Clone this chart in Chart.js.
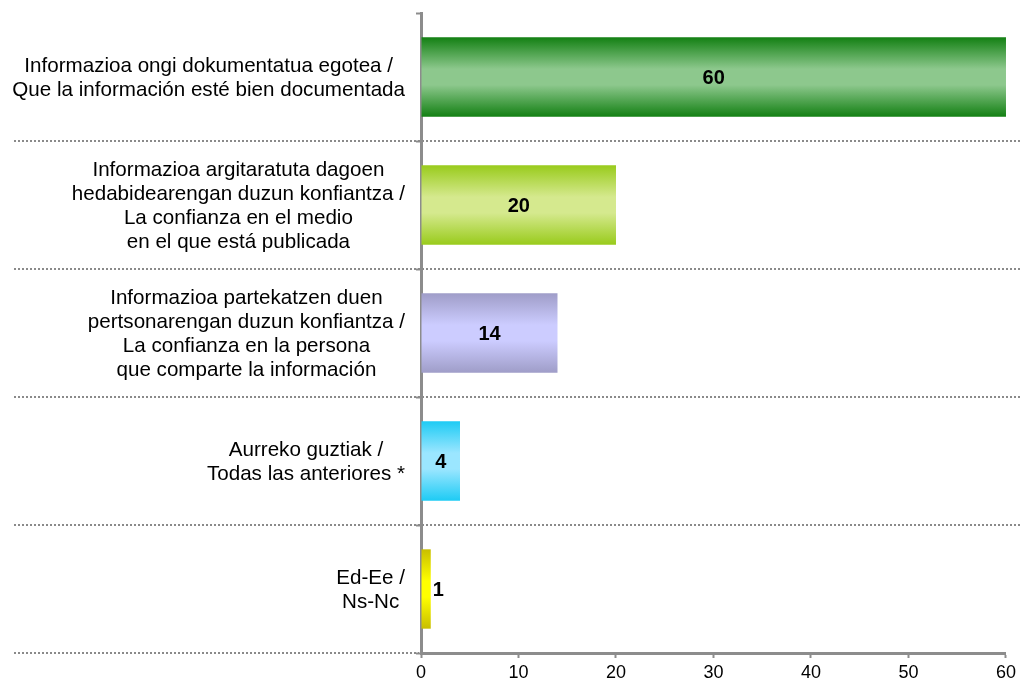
<!DOCTYPE html>
<html>
<head>
<meta charset="utf-8">
<script src="https://cdn.jsdelivr.net/npm/chart.js@4"></script>
<style>
  html, body { margin: 0; padding: 0; background: #fff; }
  #wrap { width: 1020px; height: 682px; }
</style>
</head>
<body>
<div id="wrap"><canvas id="chart"></canvas></div>
<script>
const categories = [
  ['Informazioa ongi dokumentatua egotea /', 'Que la información esté bien documentada'],
  ['Informazioa argitaratuta dagoen', 'hedabidearengan duzun konfiantza /', 'La confianza en el medio', 'en el que está publicada'],
  ['Informazioa partekatzen duen', 'pertsonarengan duzun konfiantza /', 'La confianza en la persona', 'que comparte la información'],
  ['Aurreko guztiak /', 'Todas las anteriores *'],
  ['Ed-Ee /', 'Ns-Nc']
];
const values = [60, 20, 14, 4, 1];
const xMin = 0, xMax = 60, xStep = 10;

// bar shading: dark at the edges, light in the middle
const darkColors  = ['#138013', '#99cb1c', '#9f9dc8', '#1ecbf4', '#c8be00'];
const lightColors = ['#8dc88d', '#d5e98e', '#ccccff', '#9be6ff', '#ffff00'];

const FONT = "'Liberation Sans', Arial, sans-serif";
const GRAY = '#8c8c8c';
const BAR_FRACTION = 0.62;

function barFill(context){
  const chart = context.chart;
  const i = context.dataIndex;
  const y = chart.scales && chart.scales.y;
  if (i === undefined || !chart.chartArea || !y) return lightColors[i || 0];
  const band = y.height / categories.length;
  const half = band * BAR_FRACTION / 2;
  const cy = y.getPixelForValue(i);
  const g = chart.ctx.createLinearGradient(0, cy - half, 0, cy + half);
  g.addColorStop(0, darkColors[i]);
  g.addColorStop(0.4, lightColors[i]);
  g.addColorStop(0.6, lightColors[i]);
  g.addColorStop(1, darkColors[i]);
  return g;
}

const separators = {
  id: 'separators',
  beforeDatasetsDraw(chart){
    const y = chart.scales.y, ctx = chart.ctx;
    const band = y.height / categories.length;
    ctx.save();
    ctx.strokeStyle = '#8a8a8a';
    ctx.lineWidth = 2;
    ctx.setLineDash([2, 2]);
    categories.forEach((c, i) => {
      const py = Math.round(y.getPixelForValue(i) + band / 2);
      const x2 = i === categories.length - 1 ? chart.chartArea.left - 2 : chart.width;
      ctx.beginPath();
      ctx.moveTo(14, py);
      ctx.lineTo(x2, py);
      ctx.stroke();
    });
    ctx.restore();
  }
};

const textLabels = {
  id: 'textLabels',
  afterDraw(chart){
    const ctx = chart.ctx, y = chart.scales.y;
    const right = chart.chartArea.left - 16;
    const lh = 24;
    ctx.save();
    ctx.fillStyle = '#000';
    ctx.textBaseline = 'middle';
    ctx.textAlign = 'center';
    ctx.font = `20.6px ${FONT}`;
    categories.forEach((lines, i) => {
      const widest = Math.max(...lines.map(l => ctx.measureText(l).width));
      const cx = right - widest / 2;
      const cy = y.getPixelForValue(i) + 1;
      lines.forEach((l, k) => ctx.fillText(l, cx, cy + (k - (lines.length - 1) / 2) * lh));
    });

    // value labels
    ctx.font = `bold 20px ${FONT}`;
    chart.getDatasetMeta(0).data.forEach((bar, i) => {
      const txt = String(values[i]);
      const w = ctx.measureText(txt).width;
      const barW = bar.x - bar.base;
      if (w + 6 < barW) {
        ctx.textAlign = 'center';
        ctx.fillText(txt, (bar.x + bar.base) / 2, bar.y + 1);
      } else {
        ctx.textAlign = 'left';
        ctx.fillText(txt, bar.x + 2, bar.y + 1);
      }
    });
    ctx.restore();
  }
};

new Chart(document.getElementById('chart'), {
  type: 'bar',
  data: {
    labels: categories.map((c, i) => 'c' + i),
    datasets: [{
      data: values,
      backgroundColor: barFill,
      borderWidth: 0,
      barPercentage: BAR_FRACTION,
      categoryPercentage: 1
    }]
  },
  options: {
    indexAxis: 'y',
    responsive: true,
    maintainAspectRatio: false,
    animation: false,
    layout: { padding: { top: 13, right: 14, bottom: 0, left: 0 } },
    plugins: { legend: { display: false }, tooltip: { enabled: false } },
    scales: {
      x: {
        type: 'linear',
        min: xMin, max: xMax,
        afterFit: s => { s.height = 29; },
        ticks: { stepSize: xStep, color: '#000', padding: 4, font: { family: FONT, size: 18 } },
        grid: { drawOnChartArea: false, tickLength: 5, tickColor: GRAY, tickWidth: 2 },
        border: { color: GRAY, width: 3 }
      },
      y: {
        type: 'category',
        afterFit: s => { s.width = 421; },
        ticks: { display: false },
        grid: { offset: true, drawOnChartArea: false, tickLength: 5, tickColor: GRAY, tickWidth: 2 },
        border: { color: GRAY, width: 3 }
      }
    }
  },
  plugins: [separators, textLabels]
});
</script>
</body>
</html>
